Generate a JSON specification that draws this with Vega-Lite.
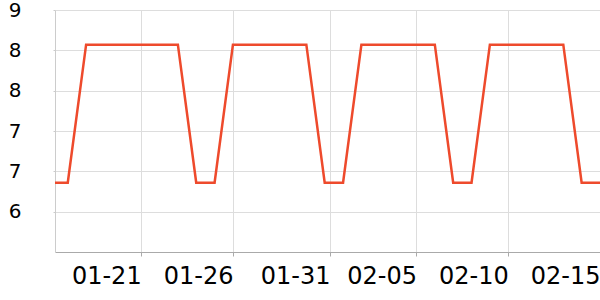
{
  "$schema": "https://vega.github.io/schema/vega-lite/v6.json",
  "width": 545,
  "height": 242,
  "autosize": {"type": "none"},
  "padding": {"left": 55, "top": 10, "right": 0, "bottom": 48},
  "background": "white",
  "config": {"view": {"stroke": null}, "font": "DejaVu Sans"},
  "data": {
    "values": [
      {"date": "2024-01-16", "value": 6.86},
      {"date": "2024-01-17", "value": 6.86},
      {"date": "2024-01-18", "value": 8.57},
      {"date": "2024-01-19", "value": 8.57},
      {"date": "2024-01-20", "value": 8.57},
      {"date": "2024-01-21", "value": 8.57},
      {"date": "2024-01-22", "value": 8.57},
      {"date": "2024-01-23", "value": 8.57},
      {"date": "2024-01-24", "value": 6.86},
      {"date": "2024-01-25", "value": 6.86},
      {"date": "2024-01-26", "value": 8.57},
      {"date": "2024-01-27", "value": 8.57},
      {"date": "2024-01-28", "value": 8.57},
      {"date": "2024-01-29", "value": 8.57},
      {"date": "2024-01-30", "value": 8.57},
      {"date": "2024-01-31", "value": 6.86},
      {"date": "2024-02-01", "value": 6.86},
      {"date": "2024-02-02", "value": 8.57},
      {"date": "2024-02-03", "value": 8.57},
      {"date": "2024-02-04", "value": 8.57},
      {"date": "2024-02-05", "value": 8.57},
      {"date": "2024-02-06", "value": 8.57},
      {"date": "2024-02-07", "value": 6.86},
      {"date": "2024-02-08", "value": 6.86},
      {"date": "2024-02-09", "value": 8.57},
      {"date": "2024-02-10", "value": 8.57},
      {"date": "2024-02-11", "value": 8.57},
      {"date": "2024-02-12", "value": 8.57},
      {"date": "2024-02-13", "value": 8.57},
      {"date": "2024-02-14", "value": 6.86},
      {"date": "2024-02-15", "value": 6.86}
    ]
  },
  "mark": {"type": "line", "color": "#ee4a2c", "strokeWidth": 2.5, "clip": true},
  "encoding": {
    "x": {
      "field": "date",
      "type": "temporal",
      "scale": {
        "type": "utc",
        "domain": [
          {"year": 2024, "month": 1, "date": 16, "hours": 7, "minutes": 19, "utc": true},
          {"year": 2024, "month": 2, "date": 15, "utc": true}
        ]
      },
      "axis": {
        "title": null,
        "values": [
          {"year": 2024, "month": 1, "date": 21, "utc": true},
          {"year": 2024, "month": 1, "date": 26, "utc": true},
          {"year": 2024, "month": 1, "date": 31, "hours": 7, "utc": true},
          {"year": 2024, "month": 2, "date": 5, "utc": true},
          {"year": 2024, "month": 2, "date": 10, "utc": true},
          {"year": 2024, "month": 2, "date": 15, "utc": true}
        ],
        "labelExpr": "utcFormat(datum.value, '%m-%d')",
        "labelAlign": "right",
        "labelBaseline": "top",
        "labelFontSize": 24,
        "labelColor": "#000000",
        "labelPadding": 8,
        "labelFont": "DejaVu Sans",
        "labelOverlap": false,
        "labelFlush": false,
        "grid": true,
        "gridColor": "#dddddd",
        "gridWidth": 1,
        "domainColor": "#aaaaaa",
        "tickColor": "#aaaaaa",
        "tickSize": 4
      }
    },
    "y": {
      "field": "value",
      "type": "quantitative",
      "scale": {"domain": [6, 9], "nice": false, "zero": false},
      "axis": {
        "title": null,
        "values": [6.5, 7, 7.5, 8, 8.5, 9],
        "labelExpr": "floor(datum.value)",
        "labelFontSize": 20,
        "labelColor": "#000000",
        "labelFont": "DejaVu Sans",
        "labelPadding": 32,
        "tickSize": 2,
        "tickColor": "#cccccc",
        "domainColor": "#cccccc",
        "grid": true,
        "gridColor": "#dddddd",
        "labelOverlap": false,
        "labelFlush": false
      }
    }
  }
}
